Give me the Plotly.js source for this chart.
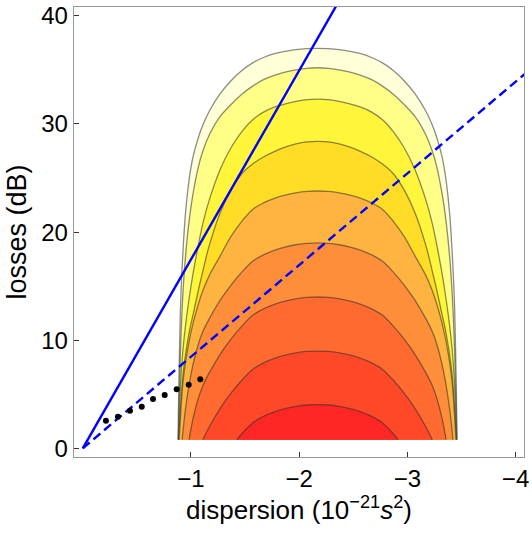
<!DOCTYPE html>
<html>
<head>
<meta charset="utf-8">
<script src="https://cdn.plot.ly/plotly-3.0.1.min.js"></script>
<style>
  html, body { margin: 0; padding: 0; background: #fff; }
  #chart { width: 532px; height: 536px; }
</style>
</head>
<body>
<div id="chart"></div>
<script>
/* ===== Data ===== */
// contour curves (outermost first), each an arch standing on the floor of the region
const levelNames = ["37", "35.2", "32.3", "28.4", "23.8", "19", "14", "9", "4"];

// shared x positions of the five outer arches (between their two foot points)
const archX = [-0.905,-0.925,-0.95,-0.985,-1.02,-1.07,-1.11,-1.17,-1.27,-1.37,-1.47,-1.57,-1.67,-1.77,-1.87,-1.97,-2.07,-2.17,
               -2.27,-2.37,-2.47,-2.57,-2.67,-2.77,-2.87,-2.97,-3.07,-3.17,-3.23,-3.27,-3.32,-3.355,-3.39,-3.415,-3.435];

const c9feet = [-0.88, -3.46];
const c9y = [0.8,13.5,18.0,21.8,25.0,27.0,28.8,29.9,31.2,32.8,34.0,34.95,35.65,36.15,36.5,36.72,36.88,36.97,37.0,36.97,36.88,36.72,36.5,36.15,35.65,34.95,34.0,32.8,31.2,29.9,28.8,27.0,25.0,21.8,18.0,13.5,0.8];

const c8feet = [-0.884, -3.456];
const c8y = [0.8,9.5,14.2,17.8,21.2,23.6,26.1,27.5,29.0,30.7,31.8,32.75,33.5,34.1,34.5,34.8,35.0,35.15,35.2,35.15,35.0,34.8,34.5,34.1,33.5,32.75,31.8,30.7,29.0,27.5,26.1,23.6,21.2,17.8,14.2,9.5,0.8];

const c7feet = [-0.887, -3.453];
const c7y = [0.8,6.2,9.0,11.4,14.0,16.2,18.9,20.8,23.0,25.8,27.8,29.3,30.4,31.1,31.55,31.85,32.1,32.25,32.3,32.25,32.1,31.85,31.55,31.1,30.4,29.3,27.8,25.8,23.0,20.8,18.9,16.2,14.0,11.4,9.0,6.2,0.8];

const c6feet = [-0.889, -3.451];
const c6y = [0.8,4.0,6.7,8.7,10.8,12.4,14.7,16.4,18.8,21.8,23.9,25.4,26.3,26.95,27.45,27.85,28.15,28.35,28.4,28.35,28.15,27.85,27.45,26.95,26.3,25.4,23.9,21.8,18.8,16.4,14.7,12.4,10.8,8.7,6.7,4.0,0.8];

const c5feet = [-0.891, -3.449];
const c5y = [0.8,3.2,6.0,8.0,10.0,11.6,13.4,14.6,16.0,17.8,19.6,21.0,22.1,22.7,23.12,23.42,23.63,23.76,23.8,23.76,23.63,23.42,23.12,22.7,22.1,21.0,19.6,17.8,16.0,14.6,13.4,11.6,10.0,8.0,6.0,3.2,0.8];

// inner arches
const c4x = [-0.918,-0.95,-0.985,-1.02,-1.07,-1.11,-1.17,-1.27,-1.37,-1.47,-1.57,-1.67,-1.77,-1.87,-1.97,-2.07,-2.17,-2.27,-2.37,-2.47,-2.57,-2.67,-2.77,-2.87,-2.97,-3.07,-3.17,-3.23,-3.27,-3.32,-3.355,-3.39,-3.422];
const c4y = [0.8,3.7,6.0,7.8,9.7,10.8,12.0,13.7,15.1,16.3,17.3,17.9,18.32,18.62,18.83,18.96,19.0,18.96,18.83,18.62,18.32,17.9,17.3,16.3,15.1,13.7,12.0,10.8,9.7,7.8,6.0,3.7,0.8];

const c3x = [-0.982,-1.02,-1.07,-1.11,-1.17,-1.27,-1.37,-1.47,-1.57,-1.67,-1.77,-1.87,-1.97,-2.07,-2.17,-2.27,-2.37,-2.47,-2.57,-2.67,-2.77,-2.87,-2.97,-3.07,-3.17,-3.23,-3.27,-3.32,-3.358];
const c3y = [0.8,2.8,4.7,5.8,7.0,8.7,10.1,11.3,12.3,12.9,13.32,13.62,13.83,13.96,14.0,13.96,13.83,13.62,13.32,12.9,12.3,11.3,10.1,8.7,7.0,5.8,4.7,2.8,0.8];

const c2x = [-1.11,-1.17,-1.27,-1.37,-1.47,-1.57,-1.67,-1.77,-1.87,-1.97,-2.07,-2.17,-2.27,-2.37,-2.47,-2.57,-2.67,-2.77,-2.87,-2.97,-3.07,-3.17,-3.23];
const c2y = [0.8,2.0,3.7,5.1,6.3,7.3,7.9,8.32,8.62,8.83,8.96,9.0,8.96,8.83,8.62,8.32,7.9,7.3,6.3,5.1,3.7,2.0,0.8];

const c1x = [-1.425,-1.47,-1.57,-1.67,-1.77,-1.87,-1.97,-2.07,-2.17,-2.27,-2.37,-2.47,-2.57,-2.67,-2.77,-2.87,-2.915];
const c1y = [0.8,1.35,2.35,2.95,3.37,3.67,3.88,4.01,4.05,4.01,3.88,3.67,3.37,2.95,2.35,1.35,0.8];

const bandColors = ["#FFFFD8", "#FFFF88", "#FFF53A", "#FFDD26", "#FFB442", "#FF8E3A", "#FF6A30", "#FF4828", "#FF2626"];

// straight lines through the origin
const solidX = [0, -2.45];
const solidY = [0, 42.8];
const dashX = [0, -4.2];
const dashY = [0, 35.6];

// measured points
const dotX = [-0.214, -0.325, -0.436, -0.545, -0.649, -0.757, -0.868, -0.979, -1.086];
const dotY = [2.55, 2.92, 3.48, 3.85, 4.56, 4.93, 5.46, 5.88, 6.38];

/* ===== Traces ===== */
const withFeet = feet => [feet[0], ...archX, feet[1]];
const curvesX = [withFeet(c9feet), withFeet(c8feet), withFeet(c7feet), withFeet(c6feet), withFeet(c5feet), c4x, c3x, c2x, c1x];
const curvesY = [c9y, c8y, c7y, c6y, c5y, c4y, c3y, c2y, c1y];

const traces = curvesX.map((xs, i) => ({
    type: "scatter",
    mode: "lines",
    x: xs,
    y: curvesY[i],
    name: levelNames[i],
    fill: "toself",
    fillcolor: bandColors[i],
    line: { color: "rgba(45,45,45,0.55)", width: 1.3, shape: "spline", smoothing: 1 },
    hoverinfo: "skip",
    showlegend: false
}));

traces.push({
    type: "scatter", mode: "lines",
    x: solidX, y: solidY,
    line: { color: "#0000FF", width: 2.4 },
    hoverinfo: "skip", showlegend: false
});
traces.push({
    type: "scatter", mode: "lines",
    x: dashX, y: dashY,
    line: { color: "#0000FF", width: 2.4, dash: "9px,5px" },
    hoverinfo: "skip", showlegend: false
});
traces.push({
    type: "scatter", mode: "markers",
    x: dotX, y: dotY,
    marker: { color: "#000", size: 6 },
    hoverinfo: "skip", showlegend: false
});

/* ===== Layout ===== */
const font = "Liberation Sans, Arial, sans-serif";

const layout = {
    width: 532,
    height: 536,
    margin: { l: 74, r: 8, t: 7, b: 79 },
    paper_bgcolor: "#fff",
    plot_bgcolor: "#fff",
    font: { family: font, color: "#000", size: 24 },
    xaxis: {
        range: [0.081, -4.078],
        tickvals: [-1, -2, -3, -4],
        ticktext: ["\u22121", "\u22122", "\u22123", "\u22124"],
        ticks: "inside", ticklen: 5, tickwidth: 1, tickcolor: "#333",
        showline: true, linecolor: "#999", linewidth: 1.3, mirror: true,
        showgrid: false, zeroline: false,
        tickfont: { size: 24 },
        title: { text: "dispersion (10<sup>\u221221</sup><i>s</i><sup>2</sup>)", font: { size: 26 }, standoff: 8 }
    },
    yaxis: {
        range: [-0.8, 40.82],
        tickvals: [0, 10, 20, 30, 40],
        ticks: "inside", ticklen: 5, tickwidth: 1, tickcolor: "#333",
        showline: true, linecolor: "#999", linewidth: 1.3, mirror: true,
        showgrid: false, zeroline: false,
        tickfont: { size: 24 },
        title: { text: "losses (dB)", font: { size: 27 }, standoff: 6 }
    }
};

Plotly.newPlot("chart", traces, layout, { displayModeBar: false, staticPlot: true });
</script>
</body>
</html>
